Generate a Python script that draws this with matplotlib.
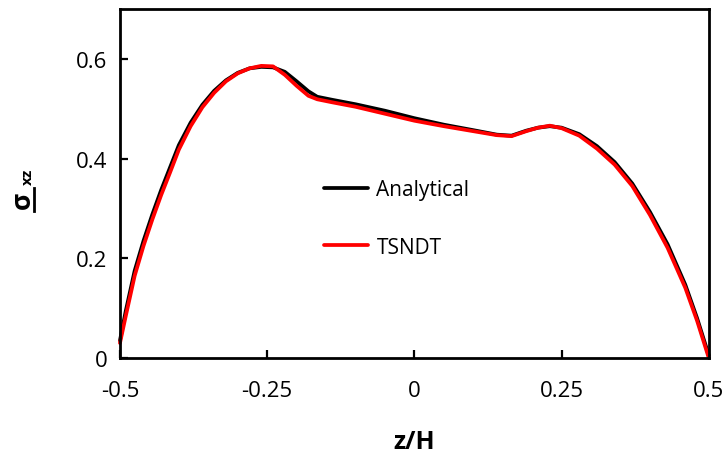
import matplotlib
matplotlib.use("Agg")
from matplotlib import pyplot as plt
from matplotlib.lines import Line2D

plt.rcParams['font.family'] = ['Open Sans', 'DejaVu Sans']

# data
z = [-0.5, -0.49, -0.475, -0.46, -0.445, -0.43, -0.415, -0.40, -0.38, -0.36,
     -0.34, -0.32, -0.30, -0.28, -0.26, -0.24, -0.22, -0.20, -0.18, -0.165,
     -0.14, -0.10, -0.05, 0.0, 0.05, 0.10, 0.14, 0.165, 0.19, 0.21,
     0.23, 0.25, 0.28, 0.31, 0.34, 0.37, 0.40, 0.43, 0.46, 0.48, 0.5]
analytical = [0.035, 0.095, 0.175, 0.235, 0.288, 0.337, 0.382, 0.427, 0.472, 0.508,
              0.536, 0.557, 0.572, 0.581, 0.584, 0.583, 0.574, 0.555, 0.535, 0.524,
              0.518, 0.509, 0.496, 0.481, 0.468, 0.457, 0.448, 0.446, 0.456, 0.462,
              0.465, 0.462, 0.449, 0.425, 0.393, 0.35, 0.293, 0.228, 0.147, 0.08, 0.005]
tsndt = [0.03, 0.085, 0.165, 0.225, 0.278, 0.327, 0.372, 0.418, 0.465, 0.503,
         0.532, 0.555, 0.571, 0.581, 0.586, 0.585, 0.568, 0.546, 0.526, 0.519,
         0.513, 0.504, 0.49, 0.476, 0.465, 0.455, 0.447, 0.445, 0.455, 0.462,
         0.466, 0.461, 0.446, 0.42, 0.388, 0.345, 0.287, 0.221, 0.141, 0.075, 0.0]

xticks = [-0.5, -0.25, 0, 0.25, 0.5]
xticklabels = ['-0.5', '-0.25', '0', '0.25', '0.5']
yticks = [0, 0.2, 0.4, 0.6]
yticklabels = ['0', '0.2', '0.4', '0.6']

W, H = 727, 456
fig = plt.figure(figsize=(W / 100, H / 100), dpi=100)
ax = fig.add_axes([0.165, 0.2127, 0.81, 0.7653])

ax.plot(z, analytical, color='black', lw=2.7, label='Analytical', clip_on=False,
        solid_joinstyle='round', solid_capstyle='round')
ax.plot(z, tsndt, color='#ff0000', lw=2.7, label='TSNDT', clip_on=False,
        solid_joinstyle='round', solid_capstyle='round')

ax.set_xlim(-0.5, 0.5)
ax.set_ylim(0, 0.7)
ax.set_xticks(xticks)
ax.set_xticklabels(xticklabels)
ax.set_yticks(yticks)
ax.set_yticklabels(yticklabels)
ax.tick_params(direction='in', length=6, width=1.6, labelsize=16, pad=9)
ax.tick_params(axis='x', pad=16)
for s in ax.spines.values():
    s.set_linewidth(2)

ax.set_xlabel('z/H', fontsize=18, fontweight='bold', labelpad=20)

# y label: underlined sigma with subscript xz (mathtext has no \underline)
fig.text(22 / W, 1 - 200 / H, 'σ', rotation=90, ha='center', va='center',
         fontsize=19, fontweight='bold')
fig.text(28 / W, 1 - 177 / H, 'xz', rotation=90, ha='center', va='center',
         fontsize=11, fontweight='bold')
fig.add_artist(Line2D([34 / W, 34 / W], [1 - 189 / H, 1 - 212 / H],
                      transform=fig.transFigure, color='black', lw=2))

ax.legend(loc='center left', bbox_to_anchor=(0.333, 0.40), frameon=False,
          fontsize=15, handlelength=2.1, handletextpad=0.4, labelspacing=1.75,
          borderaxespad=0)

plt.savefig('out.png', dpi=100)
